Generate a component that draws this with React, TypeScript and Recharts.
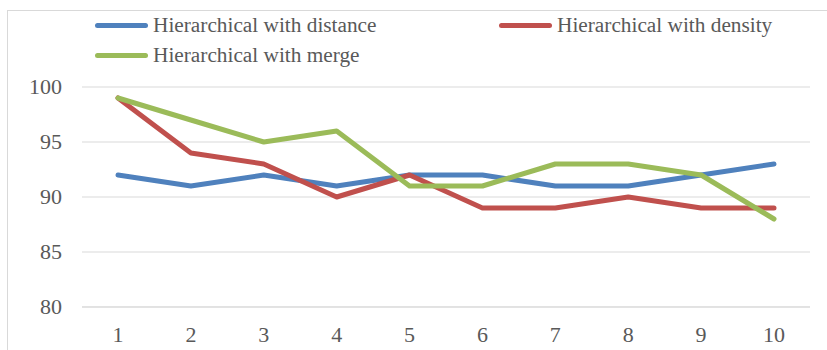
import * as React from 'react';
import { LineChart, Line, XAxis, YAxis, CartesianGrid } from 'recharts';

const categories = ['1', '2', '3', '4', '5', '6', '7', '8', '9', '10'];
const distance = [92, 91, 92, 91, 92, 92, 91, 91, 92, 93];
const density = [99, 94, 93, 90, 92, 89, 89, 90, 89, 89];
const merge = [99, 97, 95, 96, 91, 91, 93, 93, 92, 88];
const yTicks = [80, 85, 90, 95, 100];

const series = [
  { key: 'distance', name: 'Hierarchical with distance', color: '#4F81BD', values: distance },
  { key: 'density', name: 'Hierarchical with density', color: '#C0504D', values: density },
  { key: 'merge', name: 'Hierarchical with merge', color: '#9BBB59', values: merge },
];

// legend slots, Excel-style two-column wrap
const legendPos = [
  { left: 95, top: 25 },
  { left: 499, top: 25 },
  { left: 95, top: 55 },
];

const FONT = '"Liberation Serif", "Times New Roman", serif';
const TEXT = '#595959';
const GRID = '#D9D9D9';

// plain svg ticks so the serif font sticks
const XTick = (props: any) => (
  <text x={props.x} y={props.y} dy={15} textAnchor="middle" fill={TEXT} fontSize={22} fontFamily={FONT}>
    {props.payload.value}
  </text>
);

const YTick = (props: any) => (
  <text x={props.x} y={props.y} dy={7} textAnchor="end" fill={TEXT} fontSize={22} fontFamily={FONT}>
    {props.payload.value}
  </text>
);

export default function App() {
  const data = React.useMemo(
    () =>
      categories.map((c, i) => {
        const row: Record<string, number | string> = { cat: c };
        series.forEach((s) => (row[s.key] = s.values[i]));
        return row;
      }),
    [],
  );

  return (
    <div style={{ position: 'absolute', left: 0, top: 0, width: 827, height: 350, overflow: 'hidden', background: '#fff', fontFamily: FONT }}>
      <div style={{ position: 'absolute', left: 7, top: 10, width: 840, height: 360, border: `1px solid ${GRID}` }} />
      <LineChart width={827} height={350} data={data} margin={{ top: 87, right: 17, bottom: 0, left: 0 }} style={{ fontFamily: FONT }}>
        <CartesianGrid vertical={false} stroke={GRID} strokeWidth={1} />
        <XAxis
          dataKey="cat"
          height={43}
          padding={{ left: 36, right: 36 }}
          axisLine={{ stroke: GRID }}
          tickLine={false}
          tickSize={0}
          tickMargin={20}
          tick={<XTick />}
        />
        <YAxis
          domain={[80, 100]}
          ticks={yTicks}
          width={82}
          axisLine={false}
          tickLine={false}
          tickSize={0}
          tickMargin={20}
          tick={<YTick />}
        />
        {series.map((s) => (
          <Line
            key={s.key}
            type="linear"
            dataKey={s.key}
            name={s.name}
            stroke={s.color}
            strokeWidth={5}
            strokeLinecap="round"
            strokeLinejoin="round"
            dot={false}
            activeDot={false}
            isAnimationActive={false}
          />
        ))}
      </LineChart>
      {series.map((s, i) => (
        <div
          key={s.key}
          style={{ position: 'absolute', left: legendPos[i].left, top: legendPos[i].top - 12, height: 24, display: 'flex', alignItems: 'center' }}
        >
          <div style={{ width: 53, height: 5, borderRadius: 3, background: s.color }} />
          <span style={{ marginLeft: 5, fontSize: 21.3, color: TEXT, whiteSpace: 'nowrap', lineHeight: '24px' }}>{s.name}</span>
        </div>
      ))}
    </div>
  );
}
